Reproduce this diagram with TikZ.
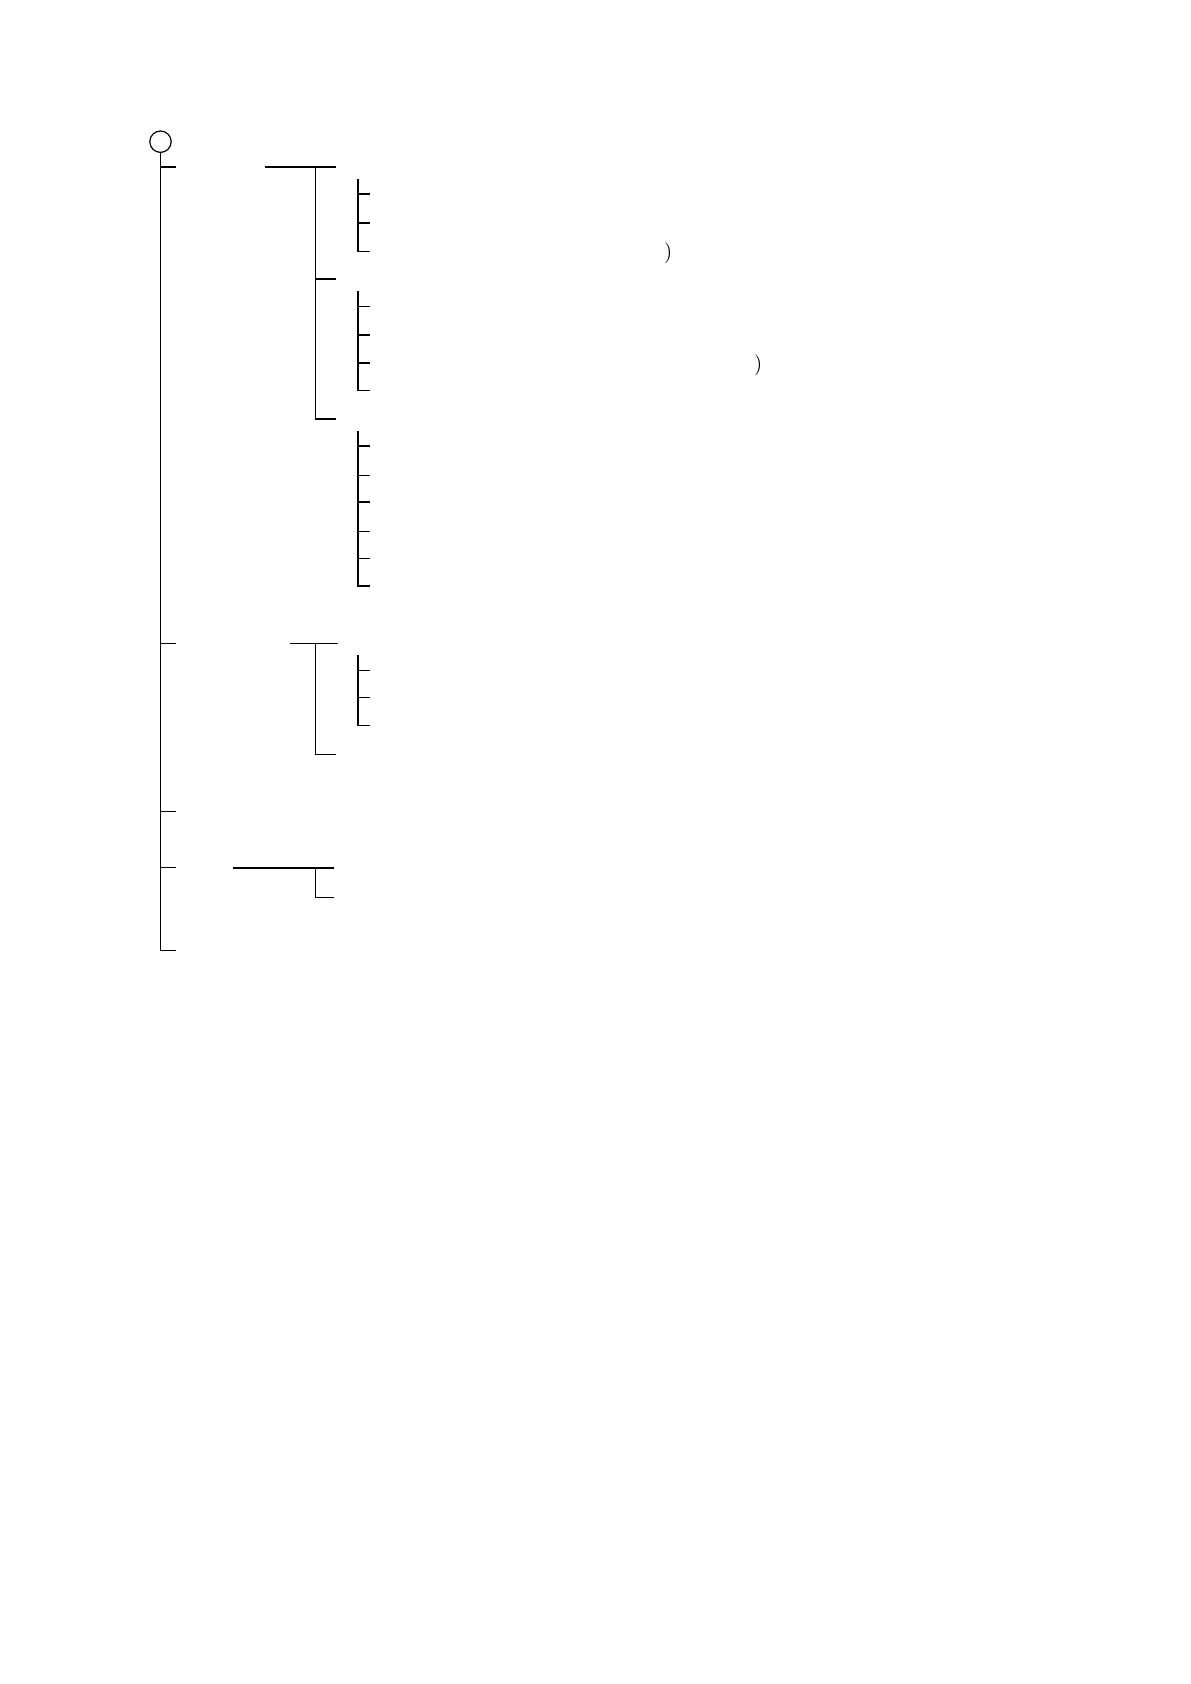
\documentclass[tikz,border=0pt]{standalone}
\usetikzlibrary{positioning, calc}

\tikzset{
    branch/.style={line width=0.8pt, line cap=rect},
    rootnode/.style={circle, draw, line width=0.6pt, minimum size=10.7pt, inner sep=0pt},
    paren/.style={inner sep=0pt, font=\fontsize{10.5}{12}\selectfont}
}

\begin{document}
\begin{tikzpicture}[x=0.5pt, y=-0.5pt, branch]
    \useasboundingbox (0,0) rectangle (1190,1684);

    % ROOT AND TRUNK
    \node[rootnode] (root) at (160.5,141.7) {};
    \coordinate (trunkend) at (160.5,950.3);
    \draw (root.south) -- (trunkend) -- ++(15,0);
    \foreach \y [count=\i] in {167.3, 643.3, 811.3, 867.3}
        \coordinate (t\i) at (160.5,\y);
    \foreach \i in {1,...,4}
        \draw (t\i) -- ++(15,0);

    % FIRST GROUP
    \coordinate (Ahead) at (266,167.3);
    \coordinate (Aend)  at (335,167.3);
    \coordinate (Abot)  at (315.3,419);
    \draw (Ahead) -- (Aend);
    \draw (Ahead -| Abot) -- (Abot) -- ++(20,0);
    \draw (315.3,279.3) -- ++(20,0);

    % sub brackets of first group
    \draw (357.7,180) -- (357.7,251.7);
    \foreach \y in {194.3, 223.3, 251.7}
        \draw (357.7,\y) -- ++(11.5,0);
    \draw (357.7,292.3) -- (357.7,390.7);
    \foreach \y in {306.7, 335, 363, 390.7}
        \draw (357.7,\y) -- ++(11.5,0);
    \draw (357.7,432.3) -- (357.7,586);
    \foreach \y in {446.3, 475.3, 502, 531.3, 558.3, 586}
        \draw (357.7,\y) -- ++(11.5,0);

    \node[paren] (pa) at (668.3,253.3) {)};
    \node[paren] (pb) at (758.3,365) {)};

    % SECOND GROUP
    \coordinate (Bhead) at (291,643.3);
    \coordinate (Bend)  at (336.7,643.3);
    \coordinate (Bbot)  at (315.3,754.3);
    \draw (Bhead) -- (Bend);
    \draw (Bhead -| Bbot) -- (Bbot) -- ++(19.5,0);
    \draw (357.7,656) -- (357.7,725.3);
    \foreach \y in {670.3, 697.3, 725.3}
        \draw (357.7,\y) -- ++(11.5,0);

    % THIRD GROUP
    \coordinate (Chead) at (234,868);
    \coordinate (Cend)  at (332.7,868);
    \coordinate (Cbot)  at (315.3,897.3);
    \draw (Chead) -- (Cend);
    \draw (Chead -| Cbot) -- (Cbot) -- ++(17.4,0);

\end{tikzpicture}
\end{document}
